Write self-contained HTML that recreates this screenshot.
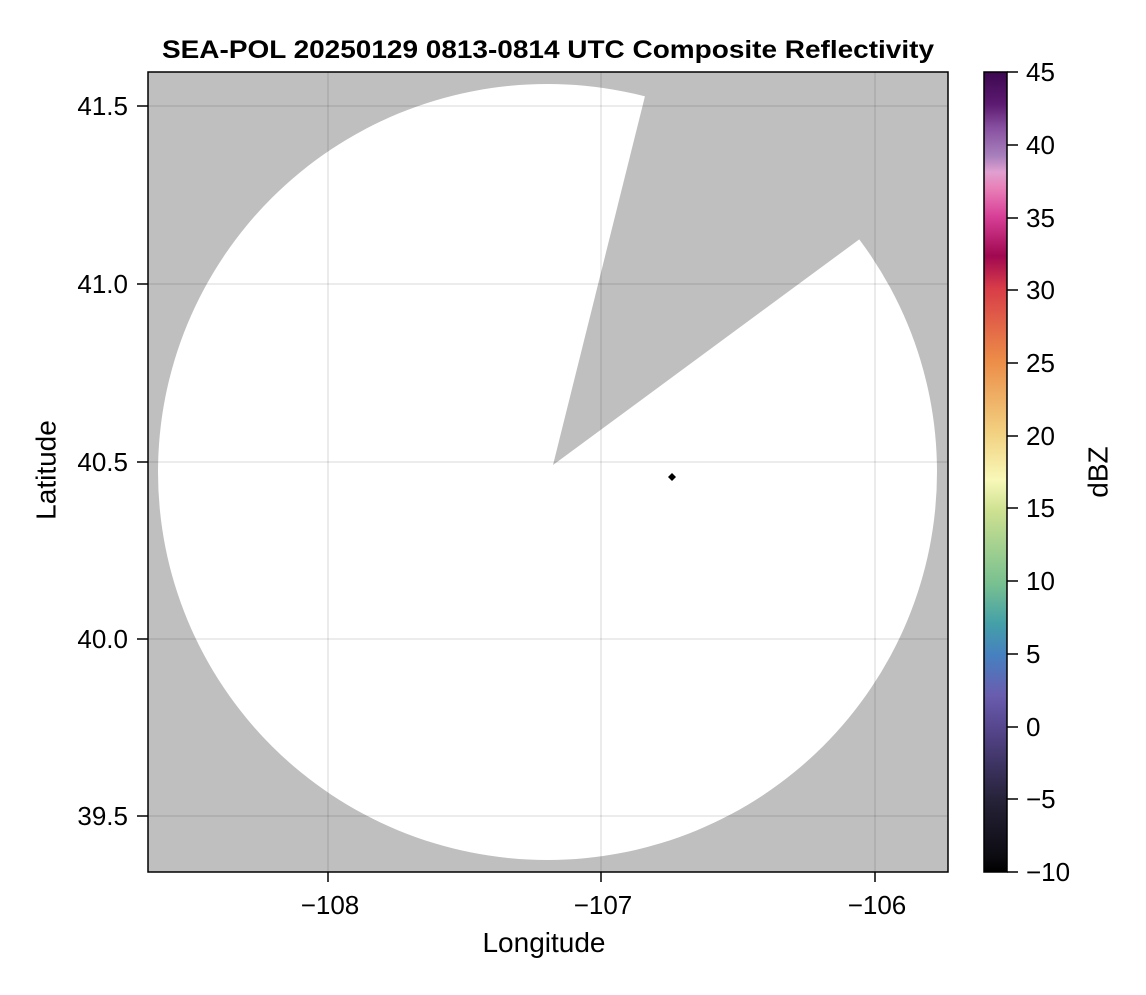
<!DOCTYPE html>
<html><head><style>
body{margin:0;background:#fff;font-family:"Liberation Sans",Arial,sans-serif;}
</style></head><body>
<svg width="1146" height="990" xmlns="http://www.w3.org/2000/svg" font-family="Liberation Sans, Arial, sans-serif">
<defs>
<clipPath id="pc"><rect x="148" y="72" width="800" height="800"/></clipPath>
<linearGradient id="cb" x1="0" y1="1" x2="0" y2="0">
<stop offset="0" stop-color="#000000"/>
<stop offset="0.02" stop-color="#0c0c12"/>
<stop offset="0.09" stop-color="#262238"/>
<stop offset="0.18" stop-color="#56468e"/>
<stop offset="0.22" stop-color="#6a5cae"/>
<stop offset="0.27" stop-color="#4680c0"/>
<stop offset="0.31" stop-color="#44a0a8"/>
<stop offset="0.36" stop-color="#78c090"/>
<stop offset="0.45" stop-color="#cce090"/>
<stop offset="0.49" stop-color="#f8f8b8"/>
<stop offset="0.55" stop-color="#f2d080"/>
<stop offset="0.64" stop-color="#ec8c48"/>
<stop offset="0.73" stop-color="#d83c48"/>
<stop offset="0.77" stop-color="#a00850"/>
<stop offset="0.82" stop-color="#d84098"/>
<stop offset="0.855" stop-color="#e880b8"/>
<stop offset="0.875" stop-color="#e0a0d0"/>
<stop offset="0.895" stop-color="#a880bc"/>
<stop offset="0.93" stop-color="#8850a0"/>
<stop offset="0.96" stop-color="#5c1a70"/>
<stop offset="1" stop-color="#3c0850"/>
</linearGradient>
</defs>
<text x="162" y="58" font-size="25" font-weight="bold" textLength="772" lengthAdjust="spacingAndGlyphs">SEA-POL 20250129 0813-0814 UTC Composite Reflectivity</text>
<g clip-path="url(#pc)">
<rect x="148" y="72" width="800" height="800" fill="#bfbfbf"/>
<ellipse cx="547.5" cy="472" rx="389.5" ry="388" fill="#fff"/>
<polygon points="553,465 651,72 948,72 948,174" fill="#bfbfbf"/>
<g stroke="#000" stroke-opacity="0.12" stroke-width="1.3">
<line x1="328" y1="72" x2="328" y2="872"/><line x1="601" y1="72" x2="601" y2="872"/><line x1="875" y1="72" x2="875" y2="872"/>
<line x1="148" y1="106" x2="948" y2="106"/><line x1="148" y1="284" x2="948" y2="284"/><line x1="148" y1="462" x2="948" y2="462"/><line x1="148" y1="639" x2="948" y2="639"/><line x1="148" y1="816" x2="948" y2="816"/>
</g>
<polygon points="672,473 676,477 672,481 668,477" fill="#000"/>
</g>
<rect x="148" y="72" width="800" height="800" fill="none" stroke="#000" stroke-width="1.5"/>
<g stroke="#000" stroke-width="1.5">
<line x1="328" y1="872" x2="328" y2="882"/><line x1="601" y1="872" x2="601" y2="882"/><line x1="875" y1="872" x2="875" y2="882"/>
<line x1="137" y1="106" x2="148" y2="106"/><line x1="137" y1="284" x2="148" y2="284"/><line x1="137" y1="462" x2="148" y2="462"/><line x1="137" y1="639" x2="148" y2="639"/><line x1="137" y1="816" x2="148" y2="816"/>
</g>
<g font-size="26" text-anchor="middle">
<text x="330" y="914">−108</text><text x="603" y="914">−107</text><text x="877" y="914">−106</text>
</g>
<text x="544" y="952" font-size="28" text-anchor="middle">Longitude</text>
<g font-size="26" text-anchor="end">
<text x="128" y="115">41.5</text><text x="128" y="293">41.0</text><text x="128" y="471">40.5</text><text x="128" y="648">40.0</text><text x="128" y="825">39.5</text>
</g>
<text x="48" y="470" font-size="28" text-anchor="middle" transform="rotate(-90 48 470)" dominant-baseline="middle">Latitude</text>
<rect x="984" y="72" width="23" height="800" fill="url(#cb)"/>
<rect x="984" y="72" width="23" height="800" fill="none" stroke="#000" stroke-width="1.5"/>
<g stroke="#000" stroke-width="1.5">
<line x1="1007" y1="72" x2="1018" y2="72"/><line x1="1007" y1="145" x2="1018" y2="145"/><line x1="1007" y1="218" x2="1018" y2="218"/><line x1="1007" y1="290" x2="1018" y2="290"/><line x1="1007" y1="363" x2="1018" y2="363"/><line x1="1007" y1="436" x2="1018" y2="436"/><line x1="1007" y1="508" x2="1018" y2="508"/><line x1="1007" y1="581" x2="1018" y2="581"/><line x1="1007" y1="654" x2="1018" y2="654"/><line x1="1007" y1="727" x2="1018" y2="727"/><line x1="1007" y1="799" x2="1018" y2="799"/><line x1="1007" y1="872" x2="1018" y2="872"/>
</g>
<g font-size="26">
<text x="1026" y="81">45</text><text x="1026" y="154">40</text><text x="1026" y="227">35</text><text x="1026" y="299">30</text><text x="1026" y="372">25</text><text x="1026" y="445">20</text><text x="1026" y="517">15</text><text x="1026" y="590">10</text><text x="1026" y="663">5</text><text x="1026" y="736">0</text><text x="1026" y="808">−5</text><text x="1026" y="881">−10</text>
</g>
<text x="1100" y="472" font-size="28" text-anchor="middle" transform="rotate(-90 1100 472)" dominant-baseline="middle">dBZ</text>
</svg>
</body></html>
